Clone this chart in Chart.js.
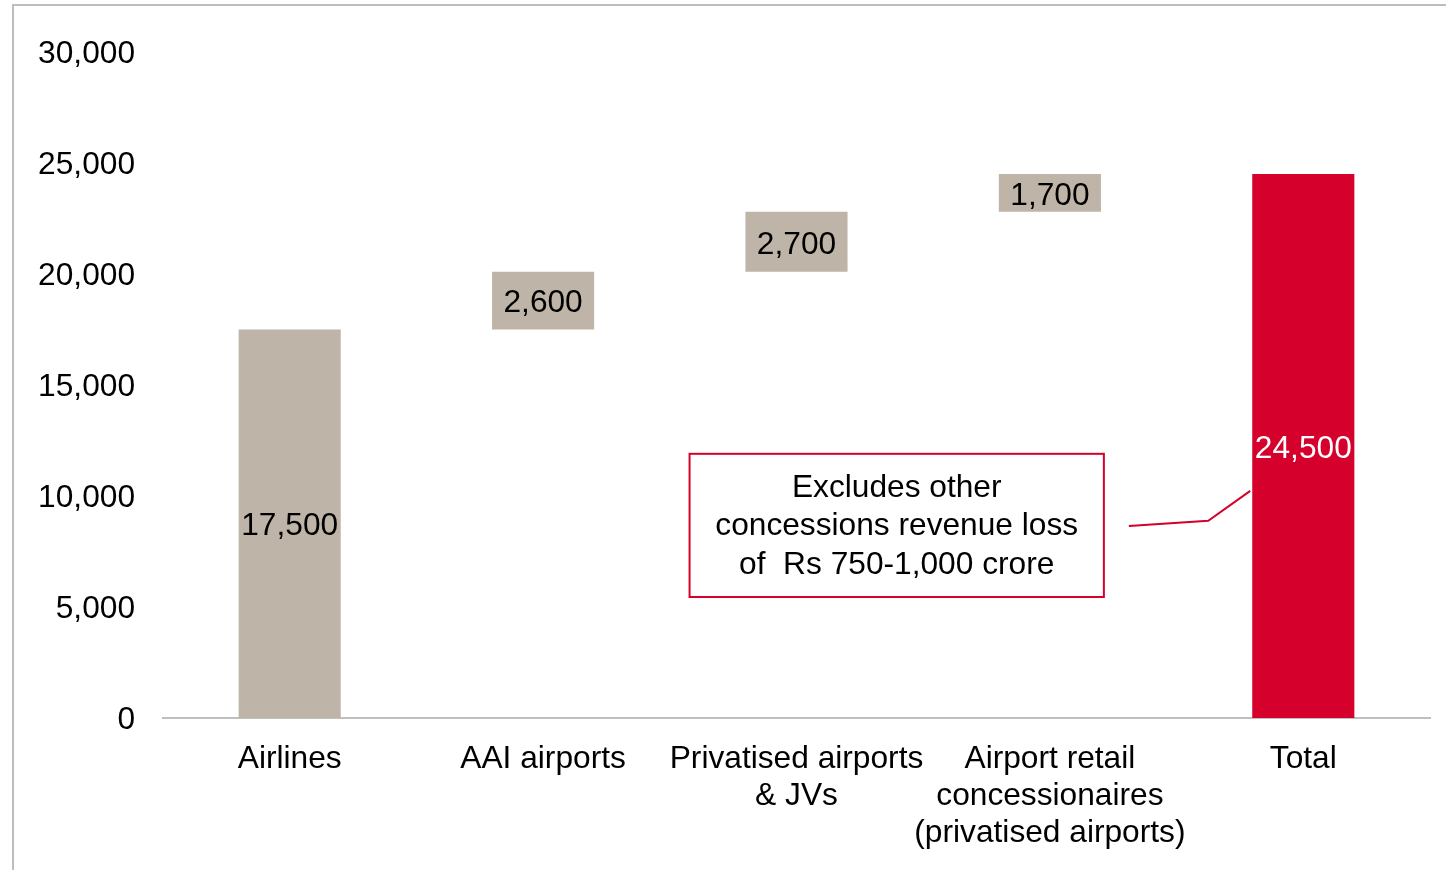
<!DOCTYPE html>
<html>
<head>
<meta charset="utf-8">
<script src="https://cdn.jsdelivr.net/npm/chart.js@4/dist/chart.umd.min.js"></script>
<style>
  html, body { margin: 0; padding: 0; background: #ffffff; overflow: hidden; }
  #frame { position: absolute; left: 12px; top: 4px; width: 3000px; height: 3000px; border: 2px solid #bdbdbd; box-sizing: border-box; }
  #wrap { position: absolute; left: 0; top: 0; width: 1446px; height: 870px; }
</style>
</head>
<body>
<div id="frame"></div>
<div id="wrap"><canvas id="c"></canvas></div>
<script>
// ---- data ----
const categories = [
  ['Airlines'],
  ['AAI airports'],
  ['Privatised airports', '& JVs'],
  ['Airport retail', 'concessionaires', '(privatised airports)'],
  ['Total']
];
const values = [17500, 2600, 2700, 1700, 24500];
const bases  = [0, 17500, 20100, 22800, 0];
const valueLabels = ['17,500', '2,600', '2,700', '1,700', '24,500'];
const yTicks = [0, 5000, 10000, 15000, 20000, 25000, 30000];
const noteLines = ['Excludes other', 'concessions revenue loss', 'of  Rs 750-1,000 crore'];

const GREY = '#BEB5A8';
const RED = '#D5002B';
const FONT = '"Liberation Sans", Arial, sans-serif';
const FS = 31.7;

const barColors = values.map((v, i) => i === values.length - 1 ? RED : GREY);
const labelColors = values.map((v, i) => i === values.length - 1 ? '#ffffff' : '#000000');

const floating = values.map((v, i) => [bases[i], bases[i] + v]);

const overlay = {
  id: 'overlay',
  afterDatasetsDraw(chart) {
    const ctx = chart.ctx;
    const meta = chart.getDatasetMeta(0);
    ctx.save();
    ctx.font = FS + 'px ' + FONT;
    ctx.textAlign = 'center';
    ctx.textBaseline = 'middle';
    meta.data.forEach((bar, i) => {
      const mid = (bar.y + bar.base) / 2;
      ctx.fillStyle = labelColors[i];
      ctx.fillText(valueLabels[i], bar.x, mid + 3);
    });
    // callout box
    const xs = chart.scales.x, ys = chart.scales.y;
    const step = xs.getPixelForValue(1) - xs.getPixelForValue(0);
    const left = xs.getPixelForValue(2) - step * 0.422;
    const right = xs.getPixelForValue(3) + step * 0.213;
    const top = ys.getPixelForValue(11900);
    const bottom = ys.getPixelForValue(5450);
    ctx.strokeStyle = RED;
    ctx.lineWidth = 2;
    ctx.strokeRect(left, top, right - left, bottom - top);
    ctx.fillStyle = '#000000';
    const cx = (left + right) / 2;
    const lh = 38.5;
    const cy = (top + bottom) / 2;
    noteLines.forEach((t, k) => {
      ctx.fillText(t, cx, cy + (k - 1) * lh + 1);
    });
    // connector
    const totalBar = meta.data[4];
    const barLeft = totalBar.x - totalBar.width / 2;
    ctx.beginPath();
    ctx.moveTo(right + 25, ys.getPixelForValue(8650));
    ctx.lineTo(barLeft - 44, ys.getPixelForValue(8880));
    ctx.lineTo(barLeft - 2, ys.getPixelForValue(10230));
    ctx.lineWidth = 2;
    ctx.stroke();
    ctx.restore();
  }
};

new Chart(document.getElementById('c'), {
  type: 'bar',
  data: {
    labels: categories,
    datasets: [{
      data: floating,
      backgroundColor: barColors,
      borderWidth: 0,
      categoryPercentage: 1,
      barPercentage: 0.403
    }]
  },
  options: {
    responsive: true,
    maintainAspectRatio: false,
    animation: false,
    layout: { padding: { top: 52, right: 16, bottom: 0, left: 0 } },
    plugins: { legend: { display: false }, tooltip: { enabled: false } },
    scales: {
      x: {
        grid: { display: false, drawTicks: false },
        border: { display: true, color: '#bfbfbf', width: 2 },
        ticks: {
          color: '#000000',
          font: { family: FONT, size: FS, lineHeight: 1.17 },
          maxRotation: 0, minRotation: 0, autoSkip: false, padding: 23
        },
        afterFit(axis) { axis.height = 870 - 718; }
      },
      y: {
        min: 0, max: 30000,
        afterBuildTicks(axis) { axis.ticks = yTicks.map(v => ({ value: v })); },
        grid: { display: false, drawTicks: false },
        border: { display: false },
        ticks: {
          color: '#000000',
          font: { family: FONT, size: FS },
          padding: 28,
          labelOffset: 2,
          callback: v => Number(v).toLocaleString('en-US')
        },
        afterFit(axis) { axis.width = 163; }
      }
    }
  },
  plugins: [overlay]
});
</script>
</body>
</html>
